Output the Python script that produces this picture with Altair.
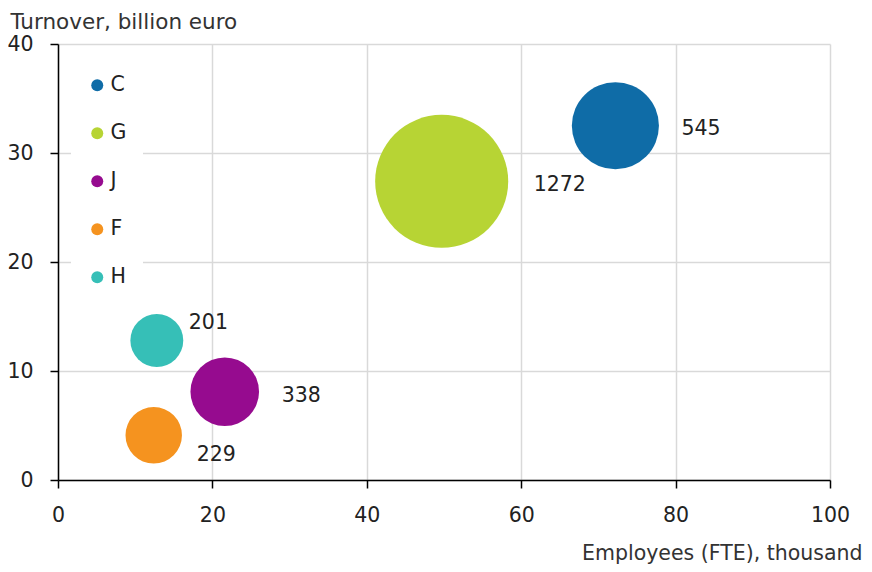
import altair as alt
import pandas as pd

sectors = ["C", "G", "J", "F", "H"]
employees = [72.2, 49.7, 21.6, 12.4, 12.8]
turnover = [32.5, 27.4, 8.1, 4.1, 12.8]
enterprises = [545, 1272, 338, 229, 201]
colors = ["#0f6ca7", "#b7d434", "#960b8f", "#f5931f", "#36bfb7"]

df = pd.DataFrame({"sector": sectors, "emp": employees, "turn": turnover, "n": enterprises})

FONT = "DejaVu Sans"
FS = 20.5

x_enc = alt.X("emp:Q", scale=alt.Scale(domain=[0, 100]),
              axis=alt.Axis(values=[0, 20, 40, 60, 80, 100], title="Employees (FTE), thousand",
                            titleAngle=0, titleAlign="right", titleBaseline="alphabetic",
                            titleX=804, titleY=79, titleAnchor="end", labelFlush=False))
y_enc = alt.Y("turn:Q", scale=alt.Scale(domain=[0, 40]),
              axis=alt.Axis(values=[0, 10, 20, 30, 40], title="Turnover, billion euro",
                            titleAngle=0, titleAlign="left", titleBaseline="alphabetic",
                            titleX=-48, titleY=-16, titleAnchor="start", labelFlush=False,
                            titleFontSize=21.5))

bubbles = alt.Chart(df).mark_circle(opacity=1).encode(
    x=x_enc,
    y=y_enc,
    size=alt.Size("n:Q", scale=alt.Scale(domain=[0, 1272], range=[0, 17700]), legend=None),
    color=alt.Color("sector:N", scale=alt.Scale(domain=sectors, range=colors),
                    legend=alt.Legend(title=None, orient="none", legendX=13, legendY=15,
                                      padding=16, fillColor="white", symbolType="circle",
                                      symbolSize=144, labelFontSize=FS, labelFont=FONT,
                                      labelColor="#222222", rowPadding=27, labelOffset=3,
                                      symbolStrokeWidth=0)),
)

label_offsets = {"C": (66, 3), "G": (92, 4), "J": (57, 4), "F": (43, 20), "H": (32, -17)}
layers = [bubbles]
for s in sectors:
    dx, dy = label_offsets[s]
    layers.append(
        alt.Chart(df).transform_filter(alt.datum.sector == s)
        .mark_text(align="left", baseline="middle", dx=dx, dy=dy, font=FONT, fontSize=FS, color="#222222")
        .encode(x="emp:Q", y="turn:Q", text="n:Q")
    )

chart = alt.layer(*layers).properties(
    width=772, height=436,
    autosize=alt.AutoSizeParams(type="none"),
    padding={"left": 50, "top": 36, "right": 34, "bottom": 84},
).configure_view(stroke=None).configure_axis(
    labelFont=FONT, labelFontSize=FS, labelColor="#222222",
    titleFont=FONT, titleFontSize=FS, titleFontWeight="normal", titleColor="#333333",
    gridColor="#d9d9d9", gridWidth=1.5,
    domainColor="#000000", domainWidth=1.5, tickColor="#000000", tickWidth=1.5, tickSize=8,
).configure_axisX(labelPadding=17).configure_axisY(labelPadding=17)

chart.save("out.html", embed_options={"renderer": "svg", "actions": False})
